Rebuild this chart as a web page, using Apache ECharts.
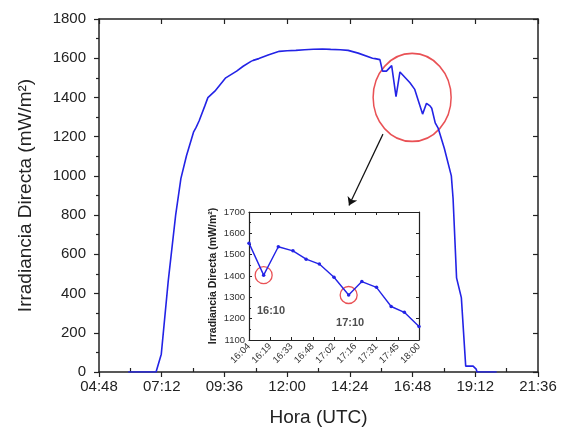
<!DOCTYPE html>
<html><head><meta charset="utf-8">
<script src="https://cdn.jsdelivr.net/npm/echarts@6/dist/echarts.min.js"></script>
<style>html,body{margin:0;padding:0;background:#fff}#c{width:561px;height:432px}</style>
</head><body><div id="c"></div>
<script>
// ---- data ----
const mainTimes = ['05:55','06:30','06:59','07:11','07:27','07:44','07:56','08:09','08:25','08:31','08:38','08:51','08:58','09:02','09:14','09:39','10:04','10:19','10:37','10:42','10:55','11:18','11:42','12:00','12:20','12:40','13:00','13:21','13:40','14:02','14:20','14:43','14:47','15:16','15:22','15:33','15:39','15:48','16:00','16:10','16:19','16:42','16:53','17:11','17:20','17:28','17:32','17:40','17:47','18:01','18:17','18:21','18:29','18:40','18:50','19:07','19:14','19:16','20:01'];
const mainValues = [0,0,0,91,465,800,986,1104,1223,1247,1281,1357,1399,1400,1432,1500,1534,1559,1584,1589,1598,1618,1635,1638,1640,1643,1646,1647,1645,1643,1640,1626,1618,1600,1598,1593,1534,1534,1562,1404,1530,1475,1441,1315,1370,1357,1345,1270,1242,1140,1000,885,480,379,30,30,15,0,0];
const mainXTicks = ['04:48','07:12','09:36','12:00','14:24','16:48','19:12','21:36'];
const insetTimes = ['16:04','16:14','16:24','16:34','16:43','16:52','17:02','17:12','17:21','17:31','17:41','17:50','18:00'];
const insetValues = [1554,1404,1537,1518,1479,1456,1394,1311,1374,1347,1257,1230,1163];
const insetXTicks = ['16:04','16:19','16:33','16:48','17:02','17:16','17:31','17:45','18:00'];
const insetMarked = ['16:14','17:12'];
const insetNotes = [{text:'16:10', time:'16:19', value:1236},{text:'17:10', time:'17:13', value:1180}];
const zoomCircle = {time:'16:47', value:1400};
const arrowFrom = {time:'15:40', value:1213};
const arrowTo = {time:'14:22', value:849};

// ---- helpers ----
const toMin = t => { const [h,m] = t.split(':').map(Number); return h*60+m; };
const pad = n => String(n).padStart(2,'0');
const fmt = v => pad(Math.floor(v/60)) + ':' + pad(Math.round(v%60));
const insetBase = toMin(insetTimes[0]);
const insetStep = (toMin(insetTimes[insetTimes.length-1]) - insetBase) / (insetXTicks.length-1);
const FONT = 'Liberation Sans, Arial, sans-serif';
const AX = '#222';
const BLUE = '#2323e6';
const RED = '#e3262b';

const mainData = mainTimes.map((t,i)=>[toMin(t), mainValues[i]]);
const insetData = insetTimes.map((t,i)=>[toMin(t)-insetBase, insetValues[i]]);
const insetValueAt = t => insetValues[insetTimes.indexOf(t)];

const xMin = toMin(mainXTicks[0]), xMax = toMin(mainXTicks[mainXTicks.length-1]);
const xInt = (xMax-xMin)/(mainXTicks.length-1);

const chart = echarts.init(document.getElementById('c'));
const lineAx = {show:true, onZero:false, lineStyle:{color:AX, width:1.5}};
chart.setOption({
  animation:false,
  backgroundColor:'#fff',
  textStyle:{fontFamily:FONT},
  grid:[
    {left:99, top:19, width:439, height:356},
    {left:249, top:212, width:170, height:128, show:true, backgroundColor:'#fff', borderWidth:0}
  ],
  xAxis:[
    {gridIndex:0, type:'value', position:'bottom', min:xMin, max:xMax, interval:xInt,
     axisLine:lineAx, axisTick:{show:true, length:5, lineStyle:{color:AX, width:1.2}},
     axisLabel:{fontSize:15, color:AX, margin:7, formatter:v=>fmt(v), fontFamily:FONT},
     splitLine:{show:false},
     name:'Hora (UTC)', nameLocation:'middle', nameGap:36,
     nameTextStyle:{fontSize:19, color:AX, fontFamily:FONT}},
    {gridIndex:0, type:'value', position:'top', min:xMin, max:xMax, interval:xInt,
     axisLine:lineAx, axisTick:{show:true, inside:true, length:5, lineStyle:{color:AX, width:1.2}},
     axisLabel:{show:false}, splitLine:{show:false}},
    {gridIndex:0, type:'value', position:'bottom', min:xMin, max:xMax, interval:xInt,
     axisLine:{show:false}, axisTick:{show:false, inside:true},
     minorTick:{show:true, splitNumber:2, length:4, lineStyle:{color:AX, width:1.2}},
     axisLabel:{show:false}, splitLine:{show:false}},
    {gridIndex:1, type:'value', position:'bottom', min:0, max:insetStep*(insetXTicks.length-1), interval:insetStep,
     axisLine:{show:true, onZero:false, lineStyle:{color:AX, width:1.2}},
     axisTick:{show:true, inside:true, length:3, lineStyle:{color:AX}},
     axisLabel:{fontSize:9.5, color:'#333', rotate:45, margin:5, fontFamily:FONT,
       formatter:v=>insetXTicks[Math.round(v/insetStep)]},
     splitLine:{show:false}},
    {gridIndex:1, type:'value', position:'top', min:0, max:insetStep*(insetXTicks.length-1), interval:insetStep,
     axisLine:{show:true, onZero:false, lineStyle:{color:AX, width:1.2}},
     axisTick:{show:true, inside:true, length:3, lineStyle:{color:AX}},
     axisLabel:{show:false}, splitLine:{show:false}}
  ],
  yAxis:[
    {gridIndex:0, type:'value', position:'left', min:0, max:1800, interval:200,
     axisLine:lineAx, axisTick:{show:true, length:5, lineStyle:{color:AX, width:1.2}},
     minorTick:{show:true, splitNumber:2, length:3, lineStyle:{color:AX, width:1.2}},
     axisLabel:{fontSize:15, color:AX, margin:13, fontFamily:FONT, formatter:v=>String(v)},
     splitLine:{show:false},
     name:'Irradiancia Directa (mW/m²)', nameLocation:'middle', nameGap:64,
     nameTextStyle:{fontSize:19, color:AX, fontFamily:FONT}},
    {gridIndex:0, type:'value', position:'right', min:0, max:1800, interval:200,
     axisLine:lineAx, axisTick:{show:true, inside:true, length:5, lineStyle:{color:AX, width:1.2}},
     axisLabel:{show:false}, splitLine:{show:false}},
    {gridIndex:1, type:'value', position:'left', min:1100, max:1700, interval:100,
     axisLine:{show:true, onZero:false, lineStyle:{color:AX, width:1.2}},
     axisTick:{show:true, inside:true, length:3, lineStyle:{color:AX}},
     minorTick:{show:true, splitNumber:2, length:2, lineStyle:{color:AX}},
     axisLabel:{fontSize:9.5, color:'#333', margin:4, fontFamily:FONT, formatter:v=>String(v)},
     splitLine:{show:false},
     name:'Irradiancia Directa (mW/m²)', nameLocation:'middle', nameGap:30,
     nameTextStyle:{fontSize:10.5, fontWeight:'bold', color:'#222', fontFamily:FONT}},
    {gridIndex:1, type:'value', position:'right', min:1100, max:1700, interval:100,
     axisLine:{show:true, onZero:false, lineStyle:{color:AX, width:1.2}},
     axisTick:{show:true, inside:true, length:3, lineStyle:{color:AX}},
     axisLabel:{show:false}, splitLine:{show:false}}
  ],
  series:[
    {type:'line', xAxisIndex:0, yAxisIndex:0, data:mainData, showSymbol:false, symbol:'none',
     lineStyle:{color:BLUE, width:1.6}},
    {type:'scatter', xAxisIndex:0, yAxisIndex:0, data:[[toMin(zoomCircle.time), zoomCircle.value]],
     symbol:'circle', symbolSize:[78,88], silent:true,
     itemStyle:{color:'rgba(0,0,0,0)', borderColor:RED, borderWidth:1.6}},
    {type:'lines', coordinateSystem:'cartesian2d', xAxisIndex:0, yAxisIndex:0,
     symbol:['none','arrow'], symbolSize:8,
     lineStyle:{color:'#111', width:1.2, opacity:1},
     data:[{coords:[[toMin(arrowFrom.time), arrowFrom.value],[toMin(arrowTo.time), arrowTo.value]]}]},
    {type:'line', xAxisIndex:3, yAxisIndex:2, data:insetData, symbol:'circle', symbolSize:3.5,
     itemStyle:{color:BLUE}, lineStyle:{color:BLUE, width:1.4}},
    {type:'scatter', xAxisIndex:3, yAxisIndex:2,
     data:insetMarked.map(t=>[toMin(t)-insetBase, insetValueAt(t)]),
     symbol:'circle', symbolSize:17, silent:true,
     itemStyle:{color:'rgba(0,0,0,0)', borderColor:RED, borderWidth:1.3}},
    {type:'scatter', xAxisIndex:3, yAxisIndex:2, symbolSize:0, silent:true,
     data:insetNotes.map(n=>({value:[toMin(n.time)-insetBase, n.value], name:n.text})),
     label:{show:true, position:'inside', formatter:p=>p.name, fontSize:11, fontWeight:'bold', color:'#222', fontFamily:FONT}}
  ]
});
</script></body></html>
